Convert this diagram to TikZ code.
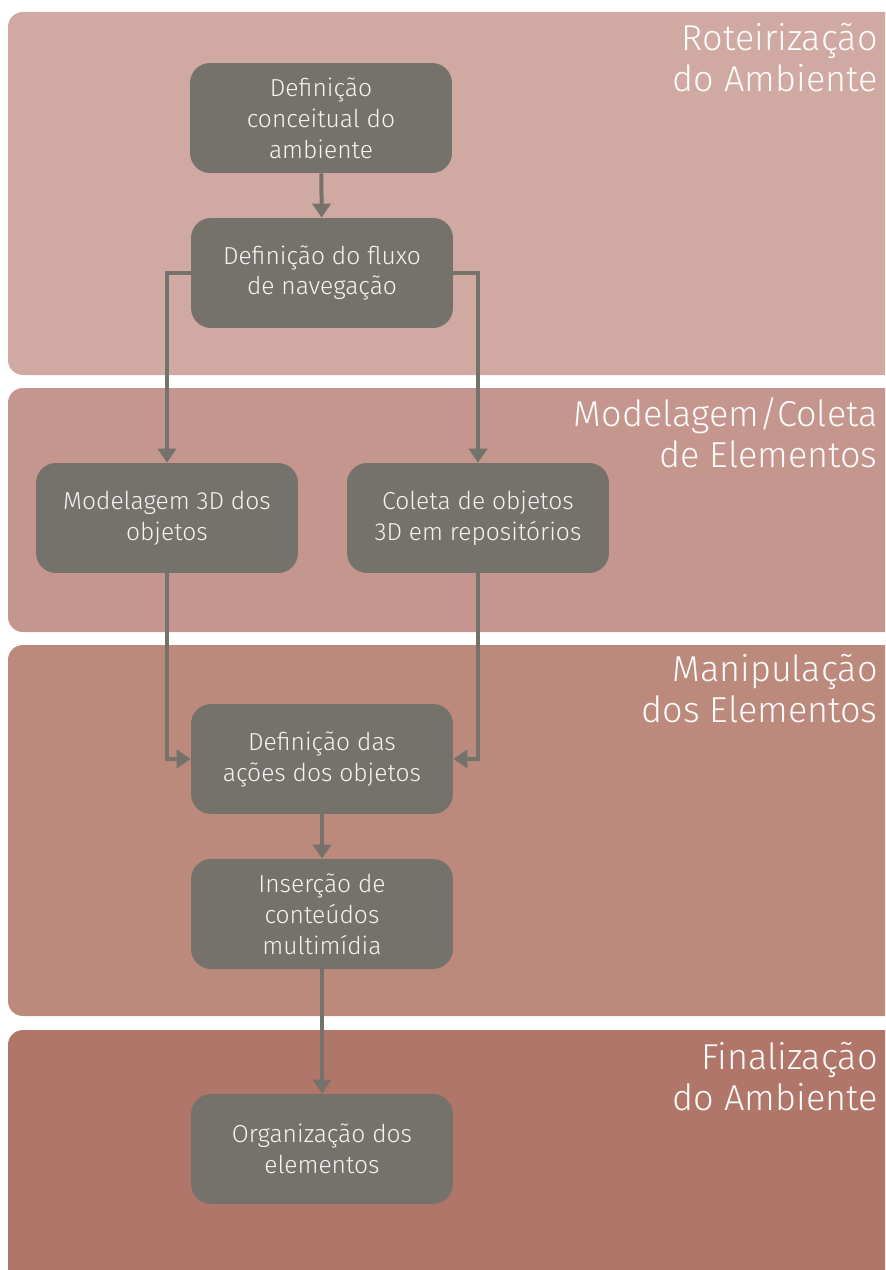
\documentclass[tikz,border=0pt]{standalone}
\usepackage{fontspec}
\setmainfont{Fira Sans Light}
\usetikzlibrary{arrows.meta}

\definecolor{faixaA}{HTML}{CFA9A2}
\definecolor{faixaB}{HTML}{C4968D}
\definecolor{faixaC}{HTML}{BC897D}
\definecolor{faixaD}{HTML}{B1766A}
\definecolor{caixa}{HTML}{75726C}

\tikzset{
    etapa/.style={fill=caixa, rounded corners=0.4cm, minimum width=5.24cm,
        minimum height=2.2cm, text=white!92!caixa, align=center,
        font=\fontsize{14}{17.6}\selectfont},
    fase/.style={anchor=north east, inner sep=0pt, align=right,
        text=white!96!faixaA, font=\fontsize{20.5}{23.5}\selectfont},
    faixa/.style={rounded corners=0.3cm},
    seta/.style={draw=caixa, line width=0.08cm,
        -{Triangle[length=0.28cm, width=0.36cm]}}
}

\begin{document}
\begin{tikzpicture}[x=0.02cm, y=-0.02cm]
    \useasboundingbox (0,0) rectangle (885,1270);
    \clip (0,0) rectangle (885,1270);

    % faixas de fundo
    \fill[faixaA, faixa] (8,12) rectangle (920,375);
    \fill[faixaB, faixa] (8,388) rectangle (920,632);
    \fill[faixaC, faixa] (8,645) rectangle (920,1016);
    \fill[faixaD, faixa] (8,1030) rectangle (920,1300);

    \node[fase] (f1) at (878,23) {Roteirização\\do Ambiente};
    \node[fase] (f2) at (878,397) {Modelagem/Coleta\\de Elementos};
    \node[fase] (f3) at (878,654) {Manipulação\\dos Elementos};
    \node[fase] (f4) at (878,1042) {Finalização\\do Ambiente};

    % etapas
    \node[etapa] (conceito) at (321,118) {Definição\\conceitual do\\ambiente};
    \node[etapa] (fluxo) at (322,273) {Definição do fluxo\\de navegação};
    \node[etapa] (modelagem) at (167,518) {Modelagem 3D dos\\objetos};
    \node[etapa] (coleta) at (478,518) {Coleta de objetos\\3D em repositórios};
    \node[etapa] (acoes) at (322,759) {Definição das\\ações dos objetos};
    \node[etapa] (multimidia) at (322,914) {Inserção de\\conteúdos\\multimídia};
    \node[etapa] (organizacao) at (322,1149) {Organização dos\\elementos};

    % ligacoes
    \draw[seta] (conceito) -- (fluxo);
    \draw[seta] (fluxo.west) -| (modelagem.north);
    \draw[seta] (fluxo.east) -| (coleta.north);
    \draw[seta] (modelagem.south) |- (acoes.west);
    \draw[seta] (coleta.south) |- (acoes.east);
    \draw[seta] (acoes) -- (multimidia);
    \draw[seta] (multimidia) -- (organizacao);
\end{tikzpicture}
\end{document}
